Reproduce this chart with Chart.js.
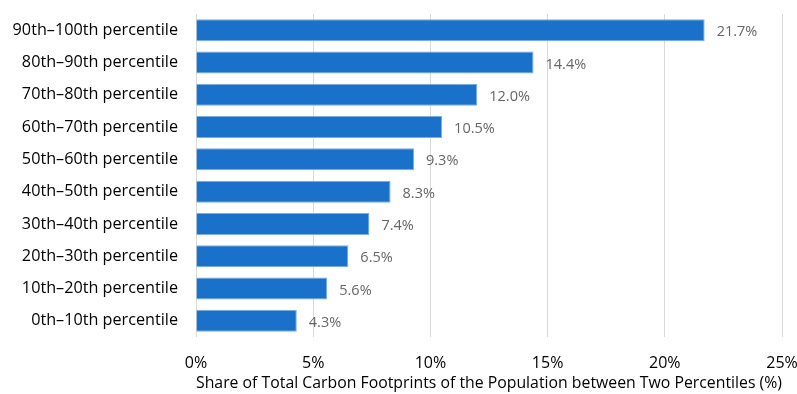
<!DOCTYPE html>
<html>
<head>
<meta charset="utf-8">
<script src="https://cdn.jsdelivr.net/npm/chart.js@4"></script>
<style>
  html, body { margin: 0; padding: 0; background: #fff; }
  #wrap { width: 797px; height: 394px; }
</style>
</head>
<body>
<div id="wrap"><canvas id="footprintChart"></canvas></div>
<script>
var categories = [
    '90th\u2013100th percentile',
    '80th\u201390th percentile',
    '70th\u201380th percentile',
    '60th\u201370th percentile',
    '50th\u201360th percentile',
    '40th\u201350th percentile',
    '30th\u201340th percentile',
    '20th\u201330th percentile',
    '10th\u201320th percentile',
    '0th\u201310th percentile'
];
var shares = [21.7, 14.4, 12.0, 10.5, 9.3, 8.3, 7.4, 6.5, 5.6, 4.3];
var xTicks = [0, 5, 10, 15, 20, 25];

var fontFamily = '"Open Sans", Lato, sans-serif';

// draw the value text next to the end of each bar
var valueLabels = {
    id: 'valueLabels',
    afterDatasetsDraw: function(chart) {
        var ctx = chart.ctx;
        var meta = chart.getDatasetMeta(0);
        ctx.save();
        ctx.font = '14.5px ' + fontFamily;
        ctx.fillStyle = '#666666';
        ctx.textBaseline = 'middle';
        ctx.textAlign = 'left';
        meta.data.forEach(function(bar, i) {
            ctx.fillText(shares[i].toFixed(1) + '%', bar.x + 12, bar.y + 2);
        });
        ctx.restore();
    }
};

var ctx = document.getElementById('footprintChart').getContext('2d');
var footprintChart = new Chart(ctx, {
    type: 'bar',
    data: {
        labels: categories,
        datasets: [{
            data: shares,
            backgroundColor: '#1a71c9',
            borderColor: '#79aee3',
            borderWidth: 1,
            categoryPercentage: 0.68,
            barPercentage: 1.0
        }]
    },
    options: {
        indexAxis: 'y',
        responsive: true,
        maintainAspectRatio: false,
        animation: false,
        layout: { padding: { top: 14, right: 15, left: 0, bottom: 0 } },
        scales: {
            x: {
                min: 0,
                max: 25,
                afterBuildTicks: function(axis) {
                    axis.ticks = xTicks.map(function(v) { return { value: v }; });
                },
                afterFit: function(axis) {
                    axis.height = 57;
                    axis.paddingLeft = 0;
                    axis.paddingRight = 0;
                },
                grid: { color: '#d9d9d9', lineWidth: 1, drawTicks: false },
                border: { display: false },
                ticks: {
                    color: '#000000',
                    padding: 17,
                    maxRotation: 0,
                    minRotation: 0,
                    font: { family: fontFamily, size: 16 },
                    callback: function(v) { return v + '%'; }
                },
                title: {
                    display: true,
                    text: 'Share of Total Carbon Footprints of the Population between Two Percentiles (%)',
                    color: '#000000',
                    font: { family: fontFamily, size: 16.3 },
                    padding: { top: 0, bottom: 1 }
                }
            },
            y: {
                afterFit: function(axis) {
                    axis.width = 196;
                    axis.paddingTop = 0;
                    axis.paddingBottom = 0;
                },
                grid: { display: false },
                border: { display: false },
                ticks: {
                    color: '#000000',
                    padding: 10,
                    font: { family: fontFamily, size: 16.2 }
                }
            }
        },
        plugins: {
            legend: { display: false },
            tooltip: { enabled: false }
        }
    },
    plugins: [valueLabels]
});
</script>
</body>
</html>
